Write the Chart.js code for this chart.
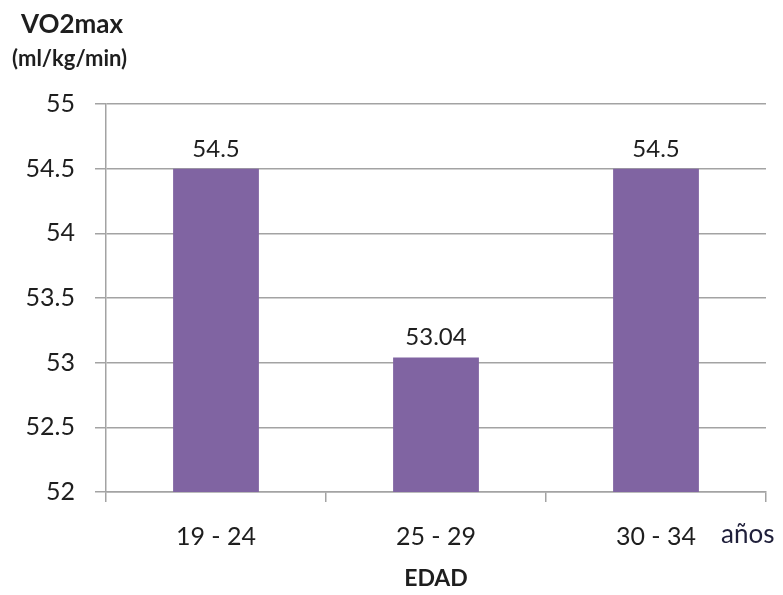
<!DOCTYPE html>
<html>
<head>
<meta charset="utf-8">
<script src="https://cdn.jsdelivr.net/npm/chart.js@4/dist/chart.umd.min.js"></script>
<style>
  html, body { margin: 0; padding: 0; background: #fff; }
  #wrap { width: 783px; height: 595px; }
</style>
</head>
<body>
<div id="wrap"><canvas id="vo2-chart"></canvas></div>
<script>
const edades = ['19 - 24', '25 - 29', '30 - 34'];
const vo2max = [54.5, 53.04, 54.5];
const yTicks = [52, 52.5, 53, 53.5, 54, 54.5, 55];

const FONT = 'Lato, "Liberation Sans", sans-serif';
const INK = '#1e1e1e';

// value above each bar, plus the unit texts around the plot
const extraText = {
  id: 'extraText',
  afterDatasetsDraw(chart) {
    const { ctx } = chart;
    const meta = chart.getDatasetMeta(0);
    ctx.save();
    ctx.fillStyle = INK;
    ctx.font = '24px ' + FONT;
    ctx.textAlign = 'center';
    ctx.textBaseline = 'alphabetic';
    meta.data.forEach((bar, i) => {
      ctx.fillText(String(vo2max[i]), bar.x, bar.y - 12);
    });

    ctx.textAlign = 'left';
    ctx.font = 'bold 26px ' + FONT;
    ctx.fillText('VO2max', 21, 33);
    ctx.font = 'bold 22px ' + FONT;
    ctx.fillText('(ml/kg/min)', 12, 66);

    ctx.font = '26px ' + FONT;
    ctx.textBaseline = 'middle';
    ctx.fillStyle = '#1f1f3a';
    ctx.fillText('años', 721, chart.scales.x.top + 43);
    ctx.restore();
  }
};

new Chart(document.getElementById('vo2-chart').getContext('2d'), {
  type: 'bar',
  data: {
    labels: edades,
    datasets: [{
      data: vo2max,
      backgroundColor: '#8064a2',
      borderWidth: 0,
      categoryPercentage: 1,
      barPercentage: 0.39
    }]
  },
  options: {
    responsive: true,
    maintainAspectRatio: false,
    animation: false,
    layout: { padding: { left: 0, right: 17, top: 104, bottom: 0 } },
    plugins: {
      legend: { display: false },
      tooltip: { enabled: false }
    },
    scales: {
      y: {
        min: 52,
        max: 55,
        afterBuildTicks(scale) {
          scale.ticks = yTicks.map(v => ({ value: v }));
        },
        afterFit(scale) { scale.width = 106; },
        ticks: {
          color: INK,
          padding: 20,
          font: { family: FONT, size: 25 },
          callback: (v) => String(v)
        },
        grid: {
          color: '#a3a3a3',
          lineWidth: 1.5,
          tickLength: 11
        },
        border: { color: '#a3a3a3', width: 1.5 }
      },
      x: {
        offset: true,
        afterFit(scale) { scale.height = 103; },
        ticks: {
          color: INK,
          padding: 20,
          font: { family: FONT, size: 25 }
        },
        grid: {
          offset: true,
          drawOnChartArea: false,
          color: '#a3a3a3',
          lineWidth: 1.5,
          tickLength: 10
        },
        border: { color: '#a3a3a3', width: 1.5 },
        title: {
          display: true,
          text: 'EDAD',
          color: INK,
          padding: { top: 0, bottom: 3 },
          font: { family: FONT, size: 23, weight: 'bold' }
        }
      }
    }
  },
  plugins: [extraText]
});
</script>
</body>
</html>
